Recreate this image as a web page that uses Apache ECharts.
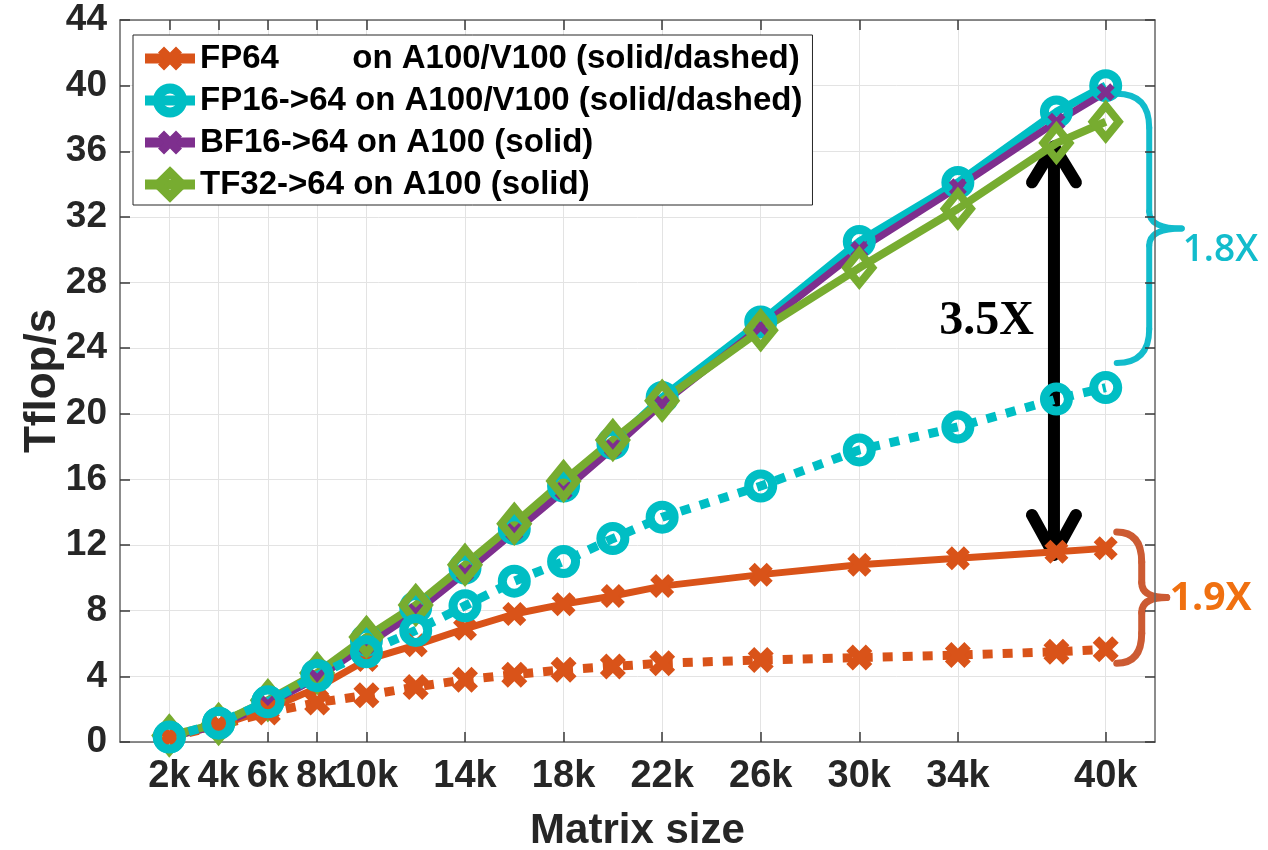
<!DOCTYPE html>
<html>
<head>
<meta charset="utf-8">
<script src="https://cdn.jsdelivr.net/npm/echarts@6/dist/echarts.min.js"></script>
<style>
  html, body { margin: 0; padding: 0; background: #fff; }
  #main { width: 1268px; height: 850px; }
</style>
</head>
<body>
<div id="main"></div>
<script>
// matrix sizes and Tflop/s
var sizes = [2000, 4000, 6000, 8000, 10000, 12000, 14000, 16000, 18000, 20000, 22000, 26000, 30000, 34000, 38000, 40000];
var xTicks = [2000, 4000, 6000, 8000, 10000, 14000, 18000, 22000, 26000, 30000, 34000, 40000];

var fp64A100 = [0.3, 1.0, 2.0, 3.3, 5.0, 5.9, 6.9, 7.8, 8.4, 8.9, 9.5, 10.2, 10.8, 11.2, 11.6, 11.8];
var fp64V100 = [0.3, 1.0, 1.8, 2.4, 2.85, 3.35, 3.8, 4.1, 4.4, 4.6, 4.8, 5.0, 5.15, 5.3, 5.5, 5.65];
var fp16A100 = [0.3, 1.15, 2.45, 4.1, 6.2, 8.2, 10.6, 13.0, 15.6, 18.2, 21.0, 25.6, 30.5, 34.1, 38.4, 40.0];
var fp16V100 = [0.3, 1.15, 2.45, 4.05, 5.5, 6.8, 8.3, 9.8, 11.0, 12.4, 13.7, 15.6, 17.8, 19.2, 20.9, 21.6];
var bf16A100 = [0.3, 1.0, 2.3, 3.9, 5.9, 7.9, 10.3, 12.8, 15.3, 17.9, 20.6, 25.3, 30.0, 33.8, 37.8, 39.6];
var tf32A100 = [0.4, 1.1, 2.55, 4.2, 6.4, 8.35, 10.8, 13.3, 15.9, 18.4, 20.8, 25.1, 28.9, 32.5, 36.5, 37.8];

var names = [
  'FP64        on A100/V100 (solid/dashed)',
  'FP16->64 on A100/V100 (solid/dashed)',
  'BF16->64 on A100 (solid)',
  'TF32->64 on A100 (solid)'
];

var ORANGE = '#D95319', CYAN = '#00BEC4', PURPLE = '#7E2F8E', GREEN = '#77AC30';
var FONT = '"Liberation Sans", Arial, sans-serif';
var xMark = 'path://M0,2.5L2.5,0L5,2.5L7.5,0L10,2.5L7.5,5L10,7.5L7.5,10L5,7.5L2.5,10L0,7.5L2.5,5Z';

function pairs(ys) {
  return sizes.map(function (x, i) { return [x, ys[i]]; });
}

function lineSeries(name, ys, color, width, dashed, symbol, size, ring) {
  return {
    name: name,
    type: 'line',
    data: pairs(ys),
    symbol: symbol,
    symbolSize: size,
    lineStyle: { color: color, width: width, type: dashed ? [10, 10] : 'solid', cap: 'butt' },
    itemStyle: ring ? { color: 'rgba(0,0,0,0)', borderColor: color, borderWidth: ring }
                    : { color: color },
    emphasis: { disabled: true },
    animation: false
  };
}

var chart = echarts.init(document.getElementById('main'));

var tickStyle = { color: '#3a3a3a', width: 1.5 };
var boxLine = { show: true, onZero: false, lineStyle: { color: '#666', width: 1.5 } };

var option = {
  backgroundColor: '#fff',
  grid: { left: 120, right: 113, top: 20, bottom: 108, outerBoundsMode: 'none', containLabel: false },
  legend: {
    data: [
      { name: names[0], lineStyle: { width: 10 } },
      { name: names[1], lineStyle: { width: 10 }, itemStyle: { borderWidth: 10 } },
      { name: names[2], lineStyle: { width: 10 } },
      { name: names[3], lineStyle: { width: 10 }, itemStyle: { borderWidth: 9 } }
    ],
    orient: 'vertical',
    left: 133,
    top: 35,
    itemWidth: 50,
    itemHeight: 30,
    itemGap: 7,
    padding: [6, 10, 3, 7],
    selectedMode: false,
    backgroundColor: '#fff',
    borderColor: '#262626',
    borderWidth: 1,
    textStyle: { fontFamily: FONT, fontWeight: 'bold', fontSize: 33, color: '#000', lineHeight: 35 }
  },
  xAxis: [{
    type: 'value', min: 0, max: 42000, position: 'bottom',
    axisLine: boxLine,
    axisTick: { show: true, inside: true, length: 10, customValues: xTicks, lineStyle: tickStyle },
    axisLabel: {
      customValues: xTicks, margin: 16,
      formatter: function (v) { return v / 1000 + 'k'; },
      fontFamily: FONT, fontWeight: 'bold', fontSize: 38, color: '#262626'
    },
    splitLine: { show: true, lineStyle: { color: '#e3e3e3', width: 1 } },
    name: 'Matrix size', nameLocation: 'middle', nameGap: 68,
    nameTextStyle: { fontFamily: FONT, fontWeight: 'bold', fontSize: 42, color: '#262626' }
  }, {
    type: 'value', min: 0, max: 42000, position: 'top',
    axisLine: boxLine,
    axisTick: { show: true, inside: true, length: 10, customValues: xTicks, lineStyle: tickStyle },
    axisLabel: { show: false },
    splitLine: { show: false }
  }],
  yAxis: [{
    type: 'value', min: 0, max: 44, interval: 4, position: 'left',
    axisLine: boxLine,
    axisTick: { show: true, inside: true, length: 10, lineStyle: tickStyle },
    axisLabel: { margin: 13, fontFamily: FONT, fontWeight: 'bold', fontSize: 37, color: '#262626' },
    splitLine: { show: true, lineStyle: { color: '#e3e3e3', width: 1 } },
    name: 'Tflop/s', nameLocation: 'middle', nameGap: 55, nameRotate: 90, nameMoveOverlap: false,
    nameTextStyle: { fontFamily: FONT, fontWeight: 'bold', fontSize: 44, color: '#262626' }
  }, {
    type: 'value', min: 0, max: 44, interval: 4, position: 'right',
    axisLine: boxLine,
    axisTick: { show: true, inside: true, length: 10, lineStyle: tickStyle },
    axisLabel: { show: false },
    splitLine: { show: false }
  }],
  series: [
    lineSeries(names[0], fp64A100, ORANGE, 7, false, xMark, 24),
    lineSeries(names[1], fp16A100, CYAN, 8, false, 'circle', 24, 9),
    lineSeries(names[2], bf16A100, PURPLE, 7, false, xMark, 18),
    lineSeries(names[3], tf32A100, GREEN, 8, false, 'diamond', [26, 32], 8),
    lineSeries('FP64 V100', fp64V100, ORANGE, 9, true, xMark, 26),
    lineSeries('FP16->64 V100', fp16V100, CYAN, 9, true, 'circle', 24, 9)
  ]
};

chart.setOption(option);

// annotations, anchored to data coordinates
function px(x, y) {
  return chart.convertToPixel({ xAxisIndex: 0, yAxisIndex: 0 }, [x, y]);
}

function brace(xLeft, yTop, yBot, w, r, color, lw) {
  var xm = xLeft + w / 2, xt = xLeft + w, ym = (yTop + yBot) / 2, r2 = r / 2;
  var st = { stroke: color, fill: null, lineWidth: lw, lineCap: 'round' };
  return {
    type: 'group', z: 100,
    children: [
      { type: 'bezierCurve', shape: { x1: xLeft, y1: yTop, cpx1: xm, cpy1: yTop, x2: xm, y2: yTop + r }, style: st },
      { type: 'line', shape: { x1: xm, y1: yTop + r, x2: xm, y2: ym - r2 }, style: st },
      { type: 'bezierCurve', shape: { x1: xm, y1: ym - r2, cpx1: xm, cpy1: ym, x2: xt, y2: ym }, style: st },
      { type: 'bezierCurve', shape: { x1: xt, y1: ym, cpx1: xm, cpy1: ym, x2: xm, y2: ym + r2 }, style: st },
      { type: 'line', shape: { x1: xm, y1: ym + r2, x2: xm, y2: yBot - r }, style: st },
      { type: 'bezierCurve', shape: { x1: xm, y1: yBot - r, cpx1: xm, cpy1: yBot, x2: xLeft, y2: yBot }, style: st }
    ]
  };
}

var aTop = px(37900, 36.3), aBot = px(37900, 11.4);
var ax = aTop[0];
var arrowSt = { stroke: '#000', fill: null, lineWidth: 12, lineCap: 'round', lineJoin: 'round' };

var cTop = px(40000, 39.5)[1], cBot = px(40000, 23.1)[1];
var oTop = px(40000, 12.8)[1], oBot = px(40000, 4.8)[1];
var bx = px(40000, 0)[0] + 11;
var LABEL_FONT = '"Open Sans", "Liberation Sans", sans-serif';

chart.setOption({
  graphic: [
    {
      type: 'group', z: 100,
      children: [
        { type: 'line', shape: { x1: ax, y1: aTop[1] + 4, x2: ax, y2: aBot[1] - 4 }, style: arrowSt },
        { type: 'polyline', shape: { points: [[ax - 22, aTop[1] + 36], [ax, aTop[1]], [ax + 22, aTop[1] + 36]] }, style: arrowSt },
        { type: 'polyline', shape: { points: [[ax - 22, aBot[1] - 40], [ax, aBot[1]], [ax + 22, aBot[1] - 40]] }, style: arrowSt }
      ]
    },
    {
      type: 'text', z: 100,
      style: {
        text: '3.5X', x: ax - 20, y: px(0, 25.65)[1], align: 'right', verticalAlign: 'middle',
        font: 'bold 48px "Liberation Serif", "Times New Roman", serif', fill: '#000'
      }
    },
    brace(bx, cTop, cBot, 65, 34, '#12BCCC', 6),
    {
      type: 'text', z: 100,
      style: {
        text: '1.8X', x: bx + 66, y: (cTop + cBot) / 2 + 22, align: 'left', verticalAlign: 'middle',
        font: '600 37px ' + LABEL_FONT, fill: '#12BCCC'
      }
    },
    brace(bx, oTop, oBot, 50, 30, '#CC5B33', 7),
    {
      type: 'text', z: 100,
      style: {
        text: '1.9X', x: bx + 53, y: (oTop + oBot) / 2 + 1, align: 'left', verticalAlign: 'middle',
        font: 'bold 39px ' + LABEL_FONT, fill: '#F07010'
      }
    }
  ]
});
</script>
</body>
</html>
